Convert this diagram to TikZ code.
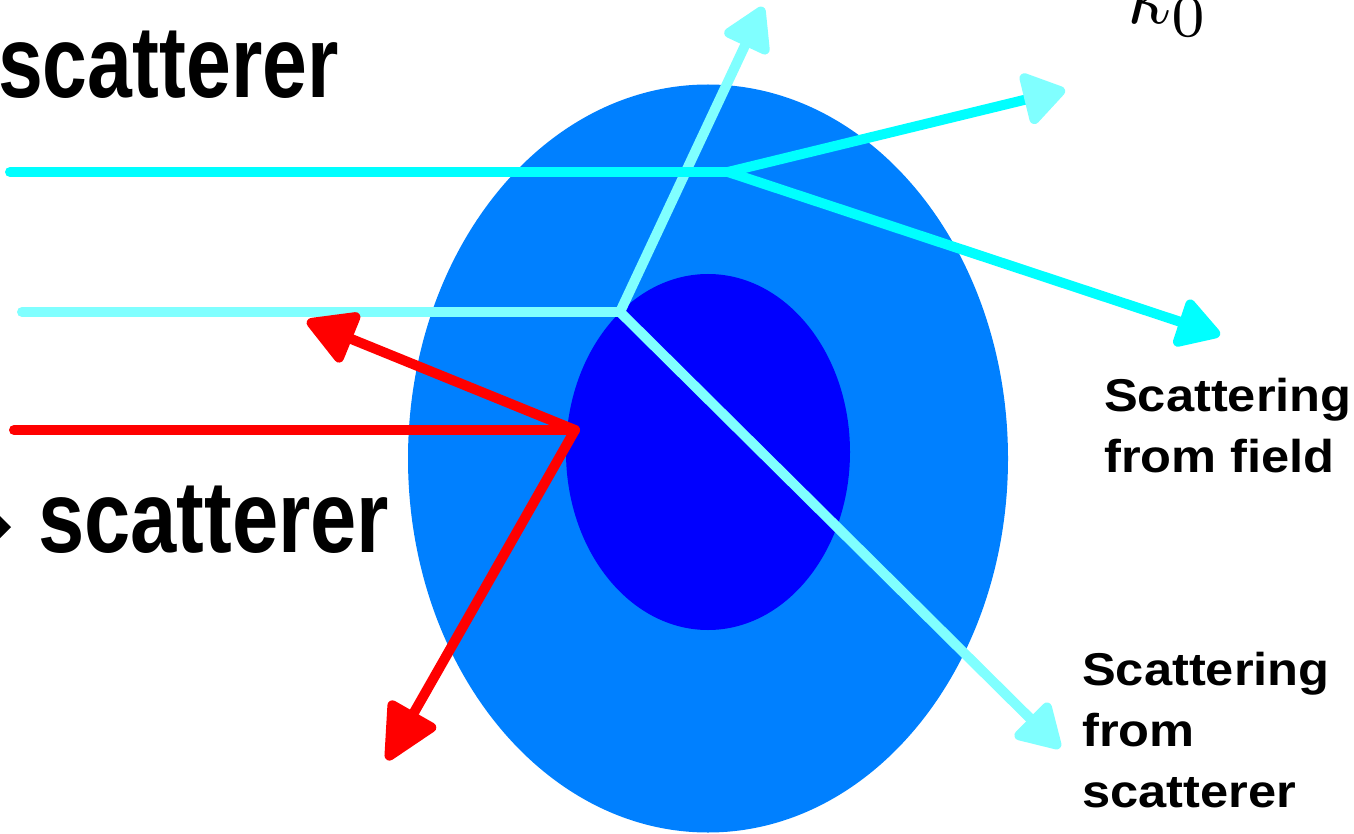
\documentclass[tikz,border=0pt]{standalone}
\usepackage{fontspec}
\setsansfont{Liberation Sans}
\usetikzlibrary{arrows.meta}
\definecolor{outerblue}{RGB}{0,128,255}
\definecolor{innerblue}{RGB}{0,0,255}
\definecolor{rcyan}{RGB}{0,255,255}
\definecolor{lcyan}{RGB}{128,255,255}
\definecolor{rred}{RGB}{255,0,0}
\tikzset{
  ray/.style={line width=10pt, line cap=round, line join=round},
  head/.style={-{Triangle[length=48pt,width=54pt,round]}},
  bigtext/.style={font=\sffamily\bfseries\fontsize{102}{110}\selectfont, inner sep=0pt},
  label/.style={font=\sffamily\bfseries\fontsize{46}{61}\selectfont, inner sep=0pt, align=left, xscale=1.1},
}
\begin{document}
\begin{tikzpicture}[x=1pt,y=-1pt]
\useasboundingbox (0,0) rectangle (1354,834);
\begin{scope}
\clip (0,0) rectangle (1354,834);
% scatterer bodies
\fill[outerblue] (708,458.5) ellipse [x radius=300, y radius=374];
\fill[innerblue] (708,452) ellipse [x radius=142, y radius=178];

% coordinates
\coordinate (cS) at (10,172);
\coordinate (cJ) at (728,172);
\coordinate (cA) at (1065,90);
\coordinate (cB) at (1220,335);
\coordinate (lS) at (22,312);
\coordinate (lJ) at (620,312);
\coordinate (lA) at (763,7);
\coordinate (lB) at (1060,748);
\coordinate (rS) at (14,430);
\coordinate (rJ) at (575,430);
\coordinate (rA) at (307,321);
\coordinate (rB) at (387,760);

% light cyan ray (scattering from scatterer)
\draw[ray, lcyan] (lS) -- (lJ);
\draw[ray, lcyan, head] (lJ) -- (lA);
\draw[ray, lcyan, head] (lJ) -- (lB);
% cyan ray (scattering from field)
\draw[ray, rcyan] (cS) -- (cJ);
\draw[ray, rcyan, -{Triangle[length=46pt,width=58pt,round,color=lcyan,fill=lcyan]}] (cJ) -- (cA);
\draw[ray, rcyan, head] (cJ) -- (cB);
% red ray
\draw[ray, rred] (rS) -- (rJ);
\draw[ray, rred, -{Triangle[length=54pt,width=58pt,round]}] (rJ) -- (rA);
\draw[ray, rred, -{Triangle[length=62pt,width=58pt,round]}] (rJ) -- (rB);

% texts
\node[bigtext, anchor=base west, xscale=0.79] (t1) at (-2,98) {scatterer};
\node[bigtext, anchor=base west, xscale=0.815] (t2) at (38,552) {scatterer};
\fill[black] (0,516) -- (11,527) -- (0,538) -- cycle;
\node[label, anchor=base west] (l1) at (1104,472) {Scattering\\from field};
\node[label, anchor=north west] (l2) at (1082,652) {Scattering\\from\\scatterer};
\node[inner sep=0pt, anchor=base west, scale=8.5] (k) at (1126,24) {$k_0$};
\end{scope}
\end{tikzpicture}
\end{document}
